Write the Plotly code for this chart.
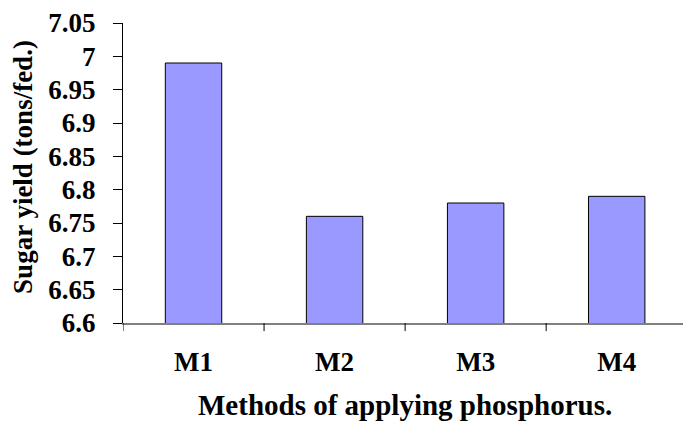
import plotly.graph_objects as go

categories = ["M1", "M2", "M3", "M4"]
sugar_yield = [6.99, 6.76, 6.78, 6.79]
y_ticks = [6.6, 6.65, 6.7, 6.75, 6.8, 6.85, 6.9, 6.95, 7.0, 7.05]
y_tick_labels = ["6.6", "6.65", "6.7", "6.75", "6.8", "6.85", "6.9", "6.95", "7", "7.05"]

FONT = "Times New Roman, Liberation Serif, DejaVu Serif, serif"

fig = go.Figure()
fig.add_trace(go.Bar(
    x=categories, y=sugar_yield,
    marker=dict(color="#9999FF", line=dict(color="#000000", width=1)),
    width=0.4,
))

fig.update_layout(
    width=683, height=421,
    margin=dict(l=123, r=0, t=23, b=98),
    paper_bgcolor="white", plot_bgcolor="white",
    showlegend=False,
    xaxis=dict(
        range=[-0.5, 3.47],
        showline=True, linecolor="#808080", linewidth=1.5,
        ticks="", showgrid=False, zeroline=False,
        tickfont=dict(family=FONT, size=27, color="black", weight="bold"),
        ticklabelstandoff=14,
    ),
    yaxis=dict(
        range=[6.6, 7.05],
        tickvals=y_ticks, ticktext=y_tick_labels,
        showline=True, linecolor="#000000", linewidth=1,
        ticks="outside", ticklen=9, tickcolor="black", tickwidth=1,
        showgrid=False, zeroline=False,
        tickfont=dict(family=FONT, size=27, color="black", weight="bold"),
        ticklabelstandoff=12,
    ),
    annotations=[
        dict(text="Sugar yield (tons/fed.)", xref="paper", yref="paper",
             x=-0.180, y=0.521, xanchor="center", yanchor="middle",
             textangle=-90, showarrow=False,
             font=dict(family=FONT, size=27, color="black", weight="bold")),
        dict(text="Methods of applying phosphorus.", xref="x", yref="paper",
             x=1.5, y=-0.272, xanchor="center", yanchor="middle",
             showarrow=False,
             font=dict(family=FONT, size=29, color="black", weight="bold")),
    ],
)

for b in [-0.5, 0.5, 1.5, 2.5]:
    fig.add_shape(type="line", xref="x", yref="paper", x0=b, x1=b, y0=0, y1=-0.027,
                  line=dict(color="black", width=1))

fig.write_html("out.html")
